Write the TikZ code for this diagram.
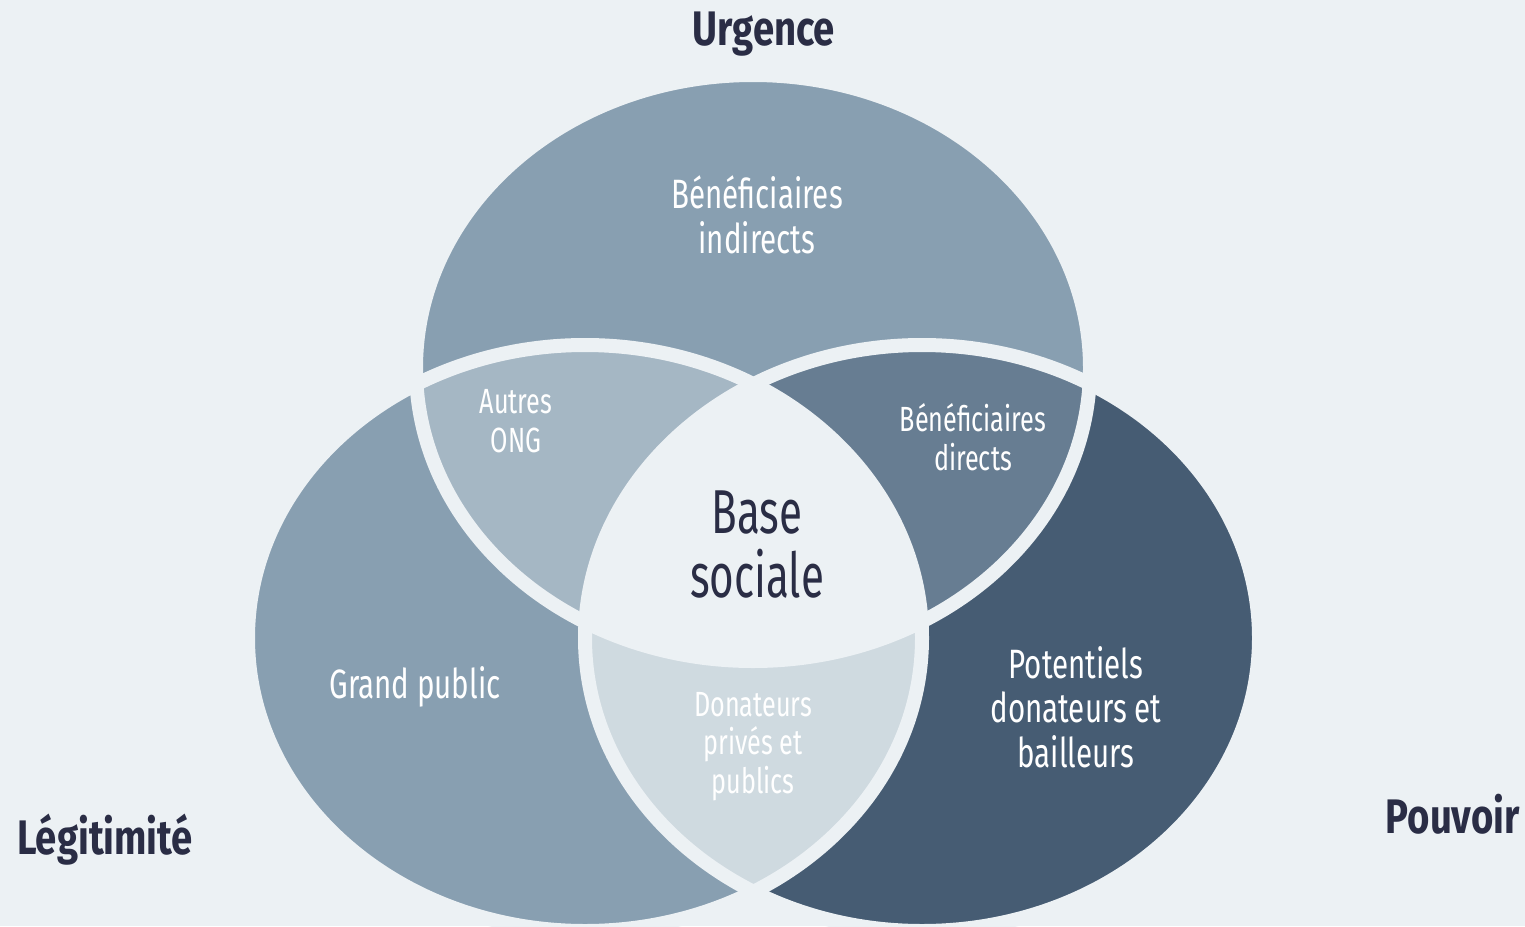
\documentclass[tikz,border=0pt]{standalone}
\usepackage{fontspec}
\newfontfamily\labfont[FakeStretch=0.72]{Fira Sans}
\newfontfamily\centerfont[FakeStretch=0.68]{Fira Sans}
\newfontfamily\titfont[FakeStretch=0.79]{Fira Sans}
\definecolor{bg}{HTML}{ECF1F4}
\definecolor{midblue}{HTML}{889FB1}
\definecolor{darkblue}{HTML}{465C73}
\definecolor{ongcol}{HTML}{A5B7C4}
\definecolor{dircol}{HTML}{677D92}
\definecolor{doncol}{HTML}{CFDAE0}
\definecolor{navy}{HTML}{2A2D45}
\tikzset{
  smalllab/.style={text=white, align=center, inner sep=0pt, anchor=base,
    font=\labfont\fontsize{35}{38.5}\selectfont},
  biglab/.style={text=white, align=center, inner sep=0pt, anchor=base,
    font=\labfont\fontsize{41}{44.5}\selectfont},
  centerlab/.style={text=navy, align=center, inner sep=0pt, anchor=base,
    font=\centerfont\fontsize{62}{64}\selectfont},
  titlelab/.style={text=navy, inner sep=0pt,
    font=\titfont\bfseries\fontsize{48.5}{50}\selectfont},
  gap/.style={draw=bg, line width=14pt}
}
\begin{document}
\begin{tikzpicture}[x=1pt,y=-1pt]
\fill[bg] (0,0) rectangle (1525,926);
\useasboundingbox (0,0) rectangle (1525,926);
\coordinate (ct) at (753,368);
\coordinate (cl) at (585,638);
\coordinate (cr) at (922,638);
\def\ell{ellipse [x radius=337pt, y radius=293pt]}
% single circles
\fill[midblue] (ct) \ell;
\fill[midblue] (cl) \ell;
\fill[darkblue] (cr) \ell;
% pairwise intersections
\begin{scope}
  \clip (ct) \ell;
  \fill[ongcol] (cl) \ell;
\end{scope}
\begin{scope}
  \clip (ct) \ell;
  \fill[dircol] (cr) \ell;
\end{scope}
\begin{scope}
  \clip (cl) \ell;
  \fill[doncol] (cr) \ell;
\end{scope}
\begin{scope}
  \clip (ct) \ell;
  \clip (cl) \ell;
  \fill[bg] (cr) \ell;
\end{scope}
% gaps
\draw[gap] (ct) \ell;
\draw[gap] (cl) \ell;
\draw[gap] (cr) \ell;
% labels (anchor = baseline of last line)
\node[biglab] (indir) at (757,253) {Bénéficiaires\\indirects};
\node[smalllab] (ong) at (516,452) {Autres\\ONG};
\node[smalllab] (dir) at (973,470) {Bénéficiaires\\directs};
\node[centerlab] (base) at (757,597) {Base\\sociale};
\node[biglab] (grand) at (415,698) {Grand public};
\node[biglab] (pot) at (1076,767) {Potentiels\\donateurs et\\bailleurs};
\node[smalllab] (don) at (753,793) {Donateurs\\privés et\\publics};
\node[titlelab, anchor=base] (urg) at (764,45) {Urgence};
\node[titlelab, anchor=base west] (leg) at (17,854) {Légitimité};
\node[titlelab, anchor=base east] (pouv) at (1520,833) {Pouvoir};
\end{tikzpicture}
\end{document}
